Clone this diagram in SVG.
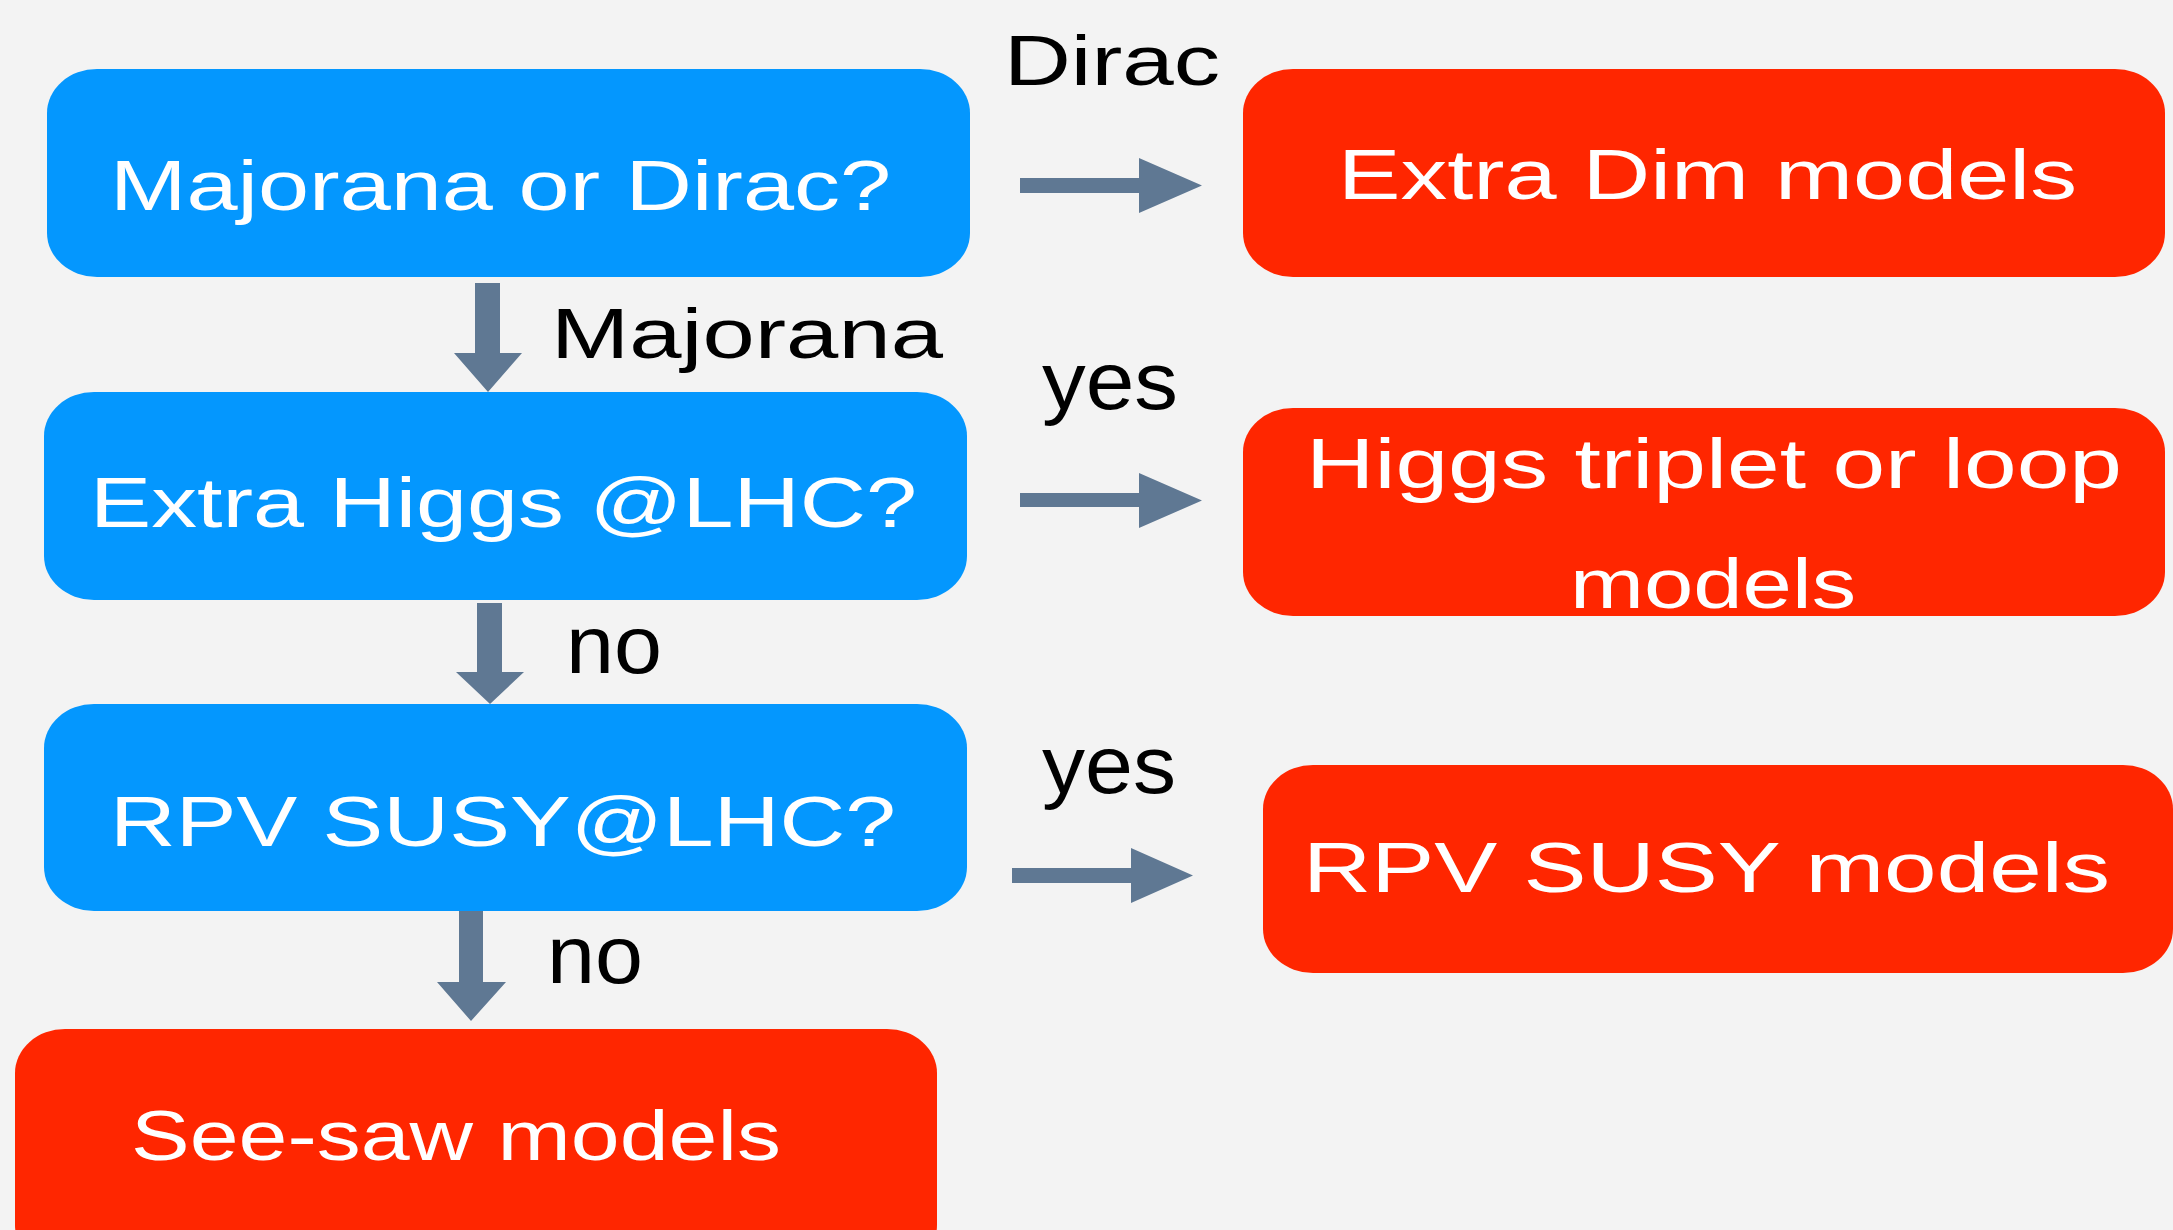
<svg xmlns="http://www.w3.org/2000/svg" width="2173" height="1230" viewBox="0 0 2173 1230">
<style>
.q{fill:#0497FE}
.m{fill:#FF2600}
.t{font-family:"Liberation Sans",Arial,sans-serif;font-size:70px;fill:#FFFFFF;text-anchor:start}
.l{font-family:"Liberation Sans",Arial,sans-serif;font-size:70px;fill:#000000;text-anchor:start}
.s{font-size:82px}
.a{fill:#5F7893}
</style>
<rect width="2173" height="1230" fill="#F3F3F3"/>
<g id="n-majorana-dirac">
<rect class="q" x="47" y="69" width="923" height="208" rx="50" ry="44"/>
<text class="t" x="110" y="210" textLength="781" lengthAdjust="spacingAndGlyphs">Majorana or Dirac?</text>
</g>
<g id="n-extra-dim">
<rect class="m" x="1243" y="69" width="922" height="208" rx="50" ry="44"/>
<text class="t" x="1338" y="199" textLength="739" lengthAdjust="spacingAndGlyphs">Extra Dim models</text>
</g>
<g id="n-extra-higgs">
<rect class="q" x="44" y="392" width="923" height="208" rx="50" ry="44"/>
<text class="t" x="90" y="527" textLength="827" lengthAdjust="spacingAndGlyphs">Extra Higgs @LHC?</text>
</g>
<g id="n-higgs-triplet">
<rect class="m" x="1243" y="408" width="922" height="208" rx="50" ry="44"/>
<text class="t" x="1306" y="488" textLength="816" lengthAdjust="spacingAndGlyphs">Higgs triplet or loop</text>
<text class="t" x="1570" y="608" textLength="286" lengthAdjust="spacingAndGlyphs">models</text>
</g>
<g id="n-rpv-lhc">
<rect class="q" x="44" y="704" width="923" height="207" rx="50" ry="44"/>
<text class="t" x="110" y="846" textLength="786" lengthAdjust="spacingAndGlyphs">RPV SUSY@LHC?</text>
</g>
<g id="n-rpv-models">
<rect class="m" x="1263" y="765" width="910" height="208" rx="50" ry="44"/>
<text class="t" x="1303" y="892" textLength="807" lengthAdjust="spacingAndGlyphs">RPV SUSY models</text>
</g>
<g id="n-seesaw">
<rect class="m" x="15" y="1029" width="922" height="240" rx="50" ry="44"/>
<text class="t" x="131" y="1160" textLength="650" lengthAdjust="spacingAndGlyphs">See-saw models</text>
</g>
<g id="connectors">
<polygon class="a" points="1020,178 1139,178 1139,158 1202,185.5 1139,213 1139,193 1020,193"/>
<polygon class="a" points="1020,493 1139,493 1139,473 1202,500.5 1139,528 1139,507 1020,507"/>
<polygon class="a" points="1012,868 1131,868 1131,848 1193,875.5 1131,903 1131,883 1012,883"/>
<polygon class="a" points="475,283 500,283 500,353 522,353 488,392 454,353 475,353"/>
<polygon class="a" points="477,603 502,603 502,672 524,672 490,704 456,672 477,672"/>
<polygon class="a" points="459,911 483,911 483,982 506,982 471,1021 437,982 459,982"/>
<text class="l" x="1004" y="85" textLength="216" lengthAdjust="spacingAndGlyphs">Dirac</text>
<text class="l" x="551" y="358" textLength="392" lengthAdjust="spacingAndGlyphs">Majorana</text>
<text class="l s" x="1042" y="409" textLength="136" lengthAdjust="spacingAndGlyphs">yes</text>
<text class="l s" x="566" y="673" textLength="96" lengthAdjust="spacingAndGlyphs">no</text>
<text class="l s" x="1042" y="793" textLength="134" lengthAdjust="spacingAndGlyphs">yes</text>
<text class="l s" x="547" y="983" textLength="96" lengthAdjust="spacingAndGlyphs">no</text>
</g>
</svg>
